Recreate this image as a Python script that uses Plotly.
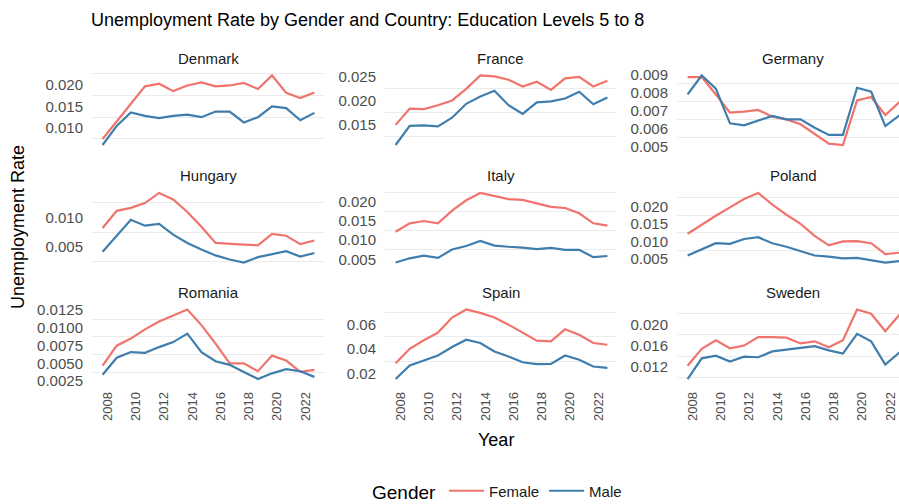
"""
Unemployment rate by gender and country, education levels 5-8 (facet grid)
"""
import plotly.graph_objects as go

W, H = 899, 504

years = list(range(2008, 2024))
countries = ['Denmark', 'France', 'Germany', 'Hungary', 'Italy', 'Poland', 'Romania', 'Spain', 'Sweden']

denmark_female = [0.0075, 0.0115, 0.0156, 0.0196, 0.0202, 0.0185, 0.0198, 0.0205, 0.0196, 0.0198, 0.0204, 0.0190, 0.0221, 0.0181, 0.0169, 0.0182]
denmark_male = [0.0061, 0.0105, 0.0136, 0.0128, 0.0123, 0.0128, 0.0131, 0.0125, 0.0138, 0.0138, 0.0113, 0.0125, 0.0150, 0.0146, 0.0118, 0.0135]

france_female = [0.0150, 0.0184, 0.0183, 0.0191, 0.0201, 0.0225, 0.0253, 0.0251, 0.0244, 0.0230, 0.0240, 0.0223, 0.0247, 0.0250, 0.0230, 0.0242]
france_male = [0.0108, 0.0148, 0.0149, 0.0147, 0.0165, 0.0194, 0.0209, 0.0221, 0.0191, 0.0173, 0.0197, 0.0199, 0.0205, 0.0219, 0.0193, 0.0207]

germany_female = [0.00885, 0.00885, 0.00789, 0.00688, 0.00694, 0.00703, 0.00666, 0.00651, 0.00624, 0.00568, 0.00517, 0.00509, 0.00756, 0.00775, 0.00675, 0.00747]
germany_male = [0.00789, 0.00894, 0.00821, 0.00629, 0.00618, 0.00642, 0.00670, 0.00651, 0.00651, 0.00605, 0.00565, 0.00565, 0.00826, 0.00804, 0.00614, 0.00673]

hungary_female = [0.0082, 0.0111, 0.0116, 0.0124, 0.0141, 0.0130, 0.0109, 0.0084, 0.0057, 0.0055, 0.0054, 0.0053, 0.0072, 0.0069, 0.0055, 0.0061]
hungary_male = [0.0042, 0.0069, 0.0096, 0.0086, 0.0089, 0.0071, 0.0057, 0.0046, 0.0036, 0.0029, 0.0024, 0.0033, 0.0038, 0.0043, 0.0034, 0.0040]

italy_female = [0.0122, 0.0144, 0.0150, 0.0144, 0.0177, 0.0204, 0.0223, 0.0216, 0.0207, 0.0205, 0.0197, 0.0187, 0.0184, 0.0170, 0.0144, 0.0138]
italy_male = [0.0042, 0.0053, 0.0060, 0.0054, 0.0076, 0.0085, 0.0098, 0.0086, 0.0083, 0.0081, 0.0077, 0.0080, 0.0075, 0.0075, 0.0056, 0.0059]

poland_female = [0.0122, 0.0148, 0.0173, 0.0197, 0.0221, 0.0238, 0.0205, 0.0176, 0.0150, 0.0116, 0.0089, 0.0100, 0.0101, 0.0095, 0.0064, 0.0068]
poland_male = [0.0060, 0.0078, 0.0095, 0.0093, 0.0107, 0.0112, 0.0095, 0.0085, 0.0073, 0.0060, 0.0057, 0.0052, 0.0053, 0.0047, 0.0040, 0.0044]

romania_female = [0.0047, 0.0075, 0.0085, 0.0098, 0.0109, 0.0118, 0.0126, 0.0104, 0.0078, 0.0050, 0.0050, 0.0039, 0.0061, 0.0054, 0.0038, 0.0041]
romania_male = [0.0034, 0.0058, 0.0066, 0.0065, 0.0073, 0.0080, 0.0092, 0.0066, 0.0053, 0.0048, 0.0038, 0.0028, 0.0036, 0.0042, 0.0039, 0.0031]

spain_female = [0.0282, 0.0400, 0.0469, 0.0532, 0.0655, 0.0721, 0.0693, 0.0655, 0.0597, 0.0532, 0.0466, 0.0460, 0.0559, 0.0515, 0.0447, 0.0433]
spain_male = [0.0153, 0.0263, 0.0304, 0.0345, 0.0414, 0.0474, 0.0447, 0.0378, 0.0337, 0.0290, 0.0274, 0.0277, 0.0345, 0.0310, 0.0255, 0.0244]

sweden_female = [0.0122, 0.0154, 0.0170, 0.0155, 0.0160, 0.0176, 0.0176, 0.0175, 0.0164, 0.0168, 0.0157, 0.0170, 0.0228, 0.0220, 0.0187, 0.0218]
sweden_male = [0.0097, 0.0136, 0.0141, 0.0130, 0.0139, 0.0138, 0.0149, 0.0152, 0.0156, 0.0159, 0.0151, 0.0145, 0.0182, 0.0168, 0.0124, 0.0147]

DATA = {
    'Denmark': (denmark_female, denmark_male),
    'France': (france_female, france_male),
    'Germany': (germany_female, germany_male),
    'Hungary': (hungary_female, hungary_male),
    'Italy': (italy_female, italy_male),
    'Poland': (poland_female, poland_male),
    'Romania': (romania_female, romania_male),
    'Spain': (spain_female, spain_male),
    'Sweden': (sweden_female, sweden_male),
}

# y tick step / format per facet (free y scales)
Y_TICKS = {
    'Denmark': (0.005, '.3f'), 'France': (0.005, '.3f'), 'Germany': (0.001, '.3f'),
    'Hungary': (0.005, '.3f'), 'Italy': (0.005, '.3f'), 'Poland': (0.005, '.3f'),
    'Romania': (0.0025, '.4f'), 'Spain': (0.02, '.2f'), 'Sweden': (0.004, '.3f'),
}

COLORS = {'Female': '#F0736C', 'Male': '#3F7DAD'}
FONT = 'Arial, Liberation Sans, sans-serif'

# panel boxes in pixels (the right column is cut by the image edge)
COL_PX = [(92, 325), (385, 616), (677, 909)]
ROW_PX = [(72, 148.5), (189.5, 266), (306, 382.5)]
PX_PER_YEAR = (COL_PX[0][1] - COL_PX[0][0]) / 16.5

fig = go.Figure()
layout = {}

for i, country in enumerate(countries):
    r, c = divmod(i, 3)
    n = i + 1
    xa = 'x' if n == 1 else f'x{n}'
    ya = 'y' if n == 1 else f'y{n}'
    female, male = DATA[country]

    for gender, vals in (('Female', female), ('Male', male)):
        fig.add_trace(go.Scatter(x=years, y=vals, mode='lines', name=gender,
                                 line=dict(color=COLORS[gender], width=2.2),
                                 xaxis=xa, yaxis=ya, showlegend=(i == 0),
                                 legendgroup=gender))

    x0, x1 = COL_PX[c]
    right = min(x1, W)
    xr = [2007.25, 2007.25 + (right - x0) / PX_PER_YEAR]
    lo, hi = min(female + male), max(female + male)
    pad = (hi - lo) * 0.05
    dt, fmt = Y_TICKS[country]

    y0, y1 = ROW_PX[r]
    layout['xaxis' if n == 1 else f'xaxis{n}'] = dict(
        domain=[x0 / W, right / W], range=xr, anchor=ya,
        tickmode='array', tickvals=list(range(2008, 2024, 2)),
        showticklabels=(r == 2), tickangle=-90, ticks='',
        ticklabelstandoff=6, ticklabelshift=5, automargin=False,
        tickfont=dict(size=13, color='#4D4D4D'),
        showgrid=False, zeroline=False, showline=False)
    layout['yaxis' if n == 1 else f'yaxis{n}'] = dict(
        domain=[1 - y1 / H, 1 - y0 / H], range=[lo - pad, hi + pad], anchor=xa,
        tickmode='linear', tick0=0, dtick=dt, tickformat=fmt,
        ticks='', ticklabelstandoff=8, automargin=False,
        tickfont=dict(size=15, color='#4D4D4D'),
        showgrid=False, zeroline=False, showline=False,
        minor=dict(tickmode='linear', tick0=dt / 2, dtick=dt, showgrid=True,
                   gridcolor='#EBEBEB', gridwidth=1, ticks=''))

    fig.add_annotation(text=country, x=(x0 + x1) / 2 / W, y=1 - (y0 - 14) / H,
                       xref='paper', yref='paper', showarrow=False,
                       xanchor='center', yanchor='middle',
                       font=dict(size=15, color='#1A1A1A', family=FONT))

fig.add_annotation(text='Unemployment Rate by Gender and Country: Education Levels 5 to 8',
                   x=89 / W, y=1 - 20 / H, xref='paper', yref='paper', showarrow=False,
                   xanchor='left', yanchor='middle',
                   font=dict(size=18, color='#000000', family=FONT))
fig.add_annotation(text='Unemployment Rate', x=18 / W, y=1 - 227 / H,
                   xref='paper', yref='paper', showarrow=False, textangle=-90,
                   xanchor='center', yanchor='middle',
                   font=dict(size=18, color='#000000', family=FONT))
fig.add_annotation(text='Year', x=496 / W, y=1 - 440 / H,
                   xref='paper', yref='paper', showarrow=False,
                   xanchor='center', yanchor='middle',
                   font=dict(size=18, color='#000000', family=FONT))

fig.update_layout(**layout)
fig.update_layout(
    width=W, height=H, autosize=False,
    margin=dict(l=0, r=0, t=0, b=0, pad=0, autoexpand=False),
    paper_bgcolor='white', plot_bgcolor='white',
    font=dict(family=FONT),
    legend=dict(orientation='h', x=370 / W, y=1 - 492 / H,
                xanchor='left', yanchor='middle',
                title=dict(text='Gender', font=dict(size=19, color='#000000'), side='left'),
                font=dict(size=15, color='#1A1A1A'),
                itemwidth=35, tracegroupgap=0),
)

# the page body has a default 8px margin; drop it so the figure fills the window
fig.write_html('out.html', config={'displayModeBar': False},
               post_script="document.body.style.margin='0';"
                           "document.body.style.overflow='hidden';")
